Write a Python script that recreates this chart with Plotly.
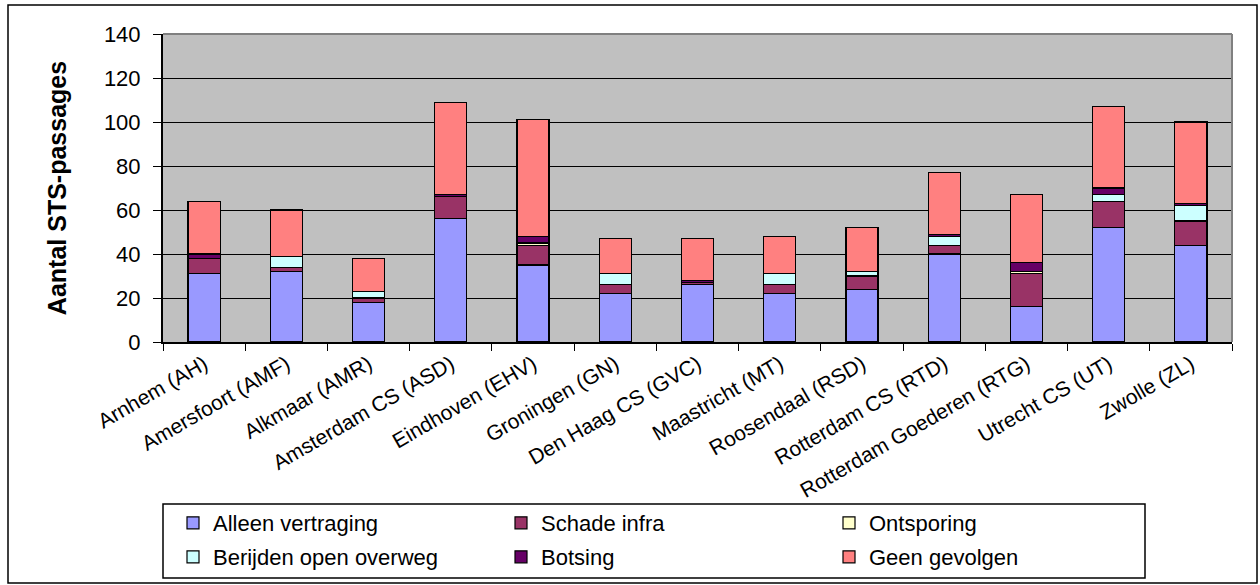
import plotly.graph_objects as go

categories = ["Arnhem (AH)", "Amersfoort (AMF)", "Alkmaar (AMR)", "Amsterdam CS (ASD)",
              "Eindhoven (EHV)", "Groningen (GN)", "Den Haag CS (GVC)", "Maastricht (MT)",
              "Roosendaal (RSD)", "Rotterdam CS (RTD)", "Rotterdam Goederen (RTG)",
              "Utrecht CS (UT)", "Zwolle (ZL)"]

alleen_vertraging = [31, 32, 18, 56, 35, 22, 26, 22, 24, 40, 16, 52, 44]
schade_infra      = [7, 2, 2, 10, 9, 4, 1, 4, 6, 4, 15, 12, 11]
ontsporing        = [0, 0, 0, 0, 1, 0, 0, 0, 0, 0, 1, 0, 0]
berijden_overweg  = [0, 5, 3, 0, 0, 5, 0, 5, 2, 4, 0, 3, 7]
botsing           = [2, 0, 0, 1, 3, 0, 1, 0, 0, 1, 4, 3, 1]
geen_gevolgen     = [24, 21, 15, 42, 53, 16, 19, 17, 20, 28, 31, 37, 37]

series = [
    ("Alleen vertraging", alleen_vertraging, "#9999FF", "legend"),
    ("Schade infra", schade_infra, "#993366", "legend"),
    ("Ontsporing", ontsporing, "#FFFFCC", "legend"),
    ("Berijden open overweg", berijden_overweg, "#CCFFFF", "legend2"),
    ("Botsing", botsing, "#660066", "legend2"),
    ("Geen gevolgen", geen_gevolgen, "#FF8080", "legend2"),
]

FONT = "Arial, Liberation Sans, sans-serif"

fig = go.Figure()
for name, vals, color, lg in series:
    fig.add_trace(go.Bar(x=categories, y=vals, name=name, legend=lg,
                         marker=dict(color=color, line=dict(color="black", width=1.2))))

W, H = 1260, 585
L, R, T, B = 163, 1232, 34, 342

def px_x(p):
    return (p - L) / (R - L)

def px_y(p):
    return (B - p) / (B - T)

legend_common = dict(orientation="h", xanchor="left", yanchor="middle",
                     xref="container", yref="container",
                     entrywidth=283, entrywidthmode="pixels",
                     font=dict(family=FONT, size=22, color="black"),
                     bgcolor="rgba(0,0,0,0)", itemclick=False, traceorder="normal")

fig.update_layout(
    width=W, height=H,
    margin=dict(l=L, r=W - R, t=T, b=H - B, autoexpand=False),
    barmode="stack", bargap=0.61,
    plot_bgcolor="#C0C0C0", paper_bgcolor="white",
    font=dict(family=FONT, color="black"),
    showlegend=True,
    legend=dict(x=173 / W, y=1 - 523 / H, **legend_common),
    legend2=dict(x=173 / W, y=1 - 557 / H, **legend_common),
    xaxis=dict(type="category", tickangle=-30, tickfont=dict(size=21, family=FONT),
               ticks="outside", tickson="boundaries", ticklen=7, tickcolor="black",
               showline=True, linecolor="black", linewidth=2, mirror=False,
               showgrid=False, automargin=False),
    yaxis=dict(range=[0, 140], dtick=20, tickfont=dict(size=22, family=FONT),
               ticks="outside", ticklen=8, tickcolor="black", ticklabelstandoff=8,
               showline=True, linecolor="black", linewidth=2,
               showgrid=True, gridcolor="black", gridwidth=1,
               zeroline=False, automargin=False,
               title=dict(text="<b>Aantal STS-passages</b>", font=dict(size=25, family=FONT),
                          standoff=30)),
    shapes=[
        dict(type="line", xref="paper", yref="paper", x0=0, x1=1, y0=1, y1=1,
             line=dict(color="#808080", width=2), layer="above"),
        dict(type="line", xref="paper", yref="paper", x0=1, x1=1, y0=0, y1=1,
             line=dict(color="#808080", width=2), layer="above"),
        dict(type="rect", xref="paper", yref="paper", x0=px_x(8), x1=px_x(1257),
             y0=px_y(583), y1=px_y(5), line=dict(color="black", width=1.5),
             fillcolor="rgba(0,0,0,0)", layer="above"),
        dict(type="rect", xref="paper", yref="paper", x0=px_x(163), x1=px_x(1145),
             y0=px_y(578), y1=px_y(504), line=dict(color="black", width=1.5),
             fillcolor="rgba(0,0,0,0)", layer="above"),
    ],
)

fig.write_html("out.html", config={"displayModeBar": False},
               post_script="document.body.style.margin='0';")
